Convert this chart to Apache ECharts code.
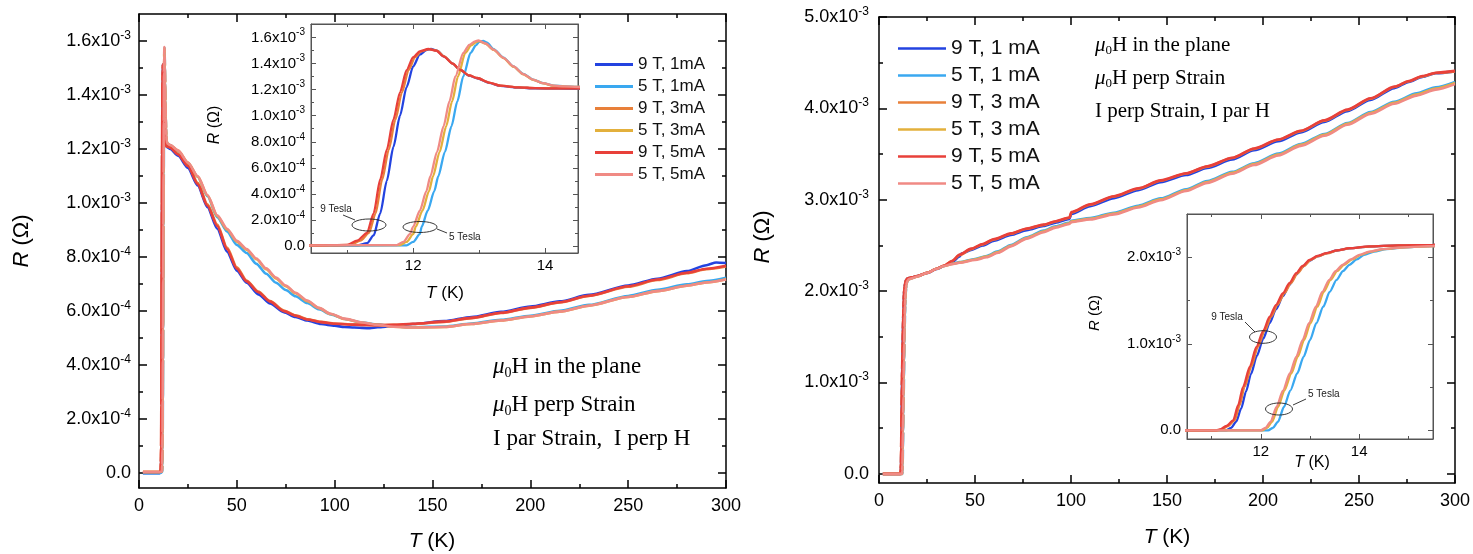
<!DOCTYPE html>
<html><head><meta charset="utf-8">
<script src="https://cdn.jsdelivr.net/npm/echarts@6/dist/echarts.min.js"></script>
<style>html,body{margin:0;padding:0;background:#fff}#c{width:1473px;height:554px}</style>
</head><body><div id="c"></div>
<script>
// T in K, R in units of 1e-3 Ohm
const leftNames  = ['9 T, 1mA','5 T, 1mA','9 T, 3mA','5 T, 3mA','9 T, 5mA','5 T, 5mA'];
const rightNames = ['9 T, 1 mA','5 T, 1 mA','9 T, 3 mA','5 T, 3 mA','9 T, 5 mA','5 T, 5 mA'];
const seriesColors = ['#2343e0','#3aa8f0','#e8803a','#e3b03c','#e8403a','#f08a84'];

// main x ticks
const mainXMajor = [0,50,100,150,200,250,300];
const mainXMinor = [25,75,125,175,225,275];
// left panel y ticks (1e-3 Ohm)
const leftYMajor = [0,0.2,0.4,0.6,0.8,1.0,1.2,1.4,1.6];
const leftYMinor = [0.1,0.3,0.5,0.7,0.9,1.1,1.3,1.5];
const leftInsetXMajor = [12,14];
const leftInsetXMinor = [11,13];
// right panel y ticks
const rightYMajor = [0,1,2,3,4,5];
const rightYMinor = [0.5,1.5,2.5,3.5,4.5];
const rightInsetYMajor = [0,1,2];
const rightInsetYMinor = [0.5,1.5];
const rightInsetXMajor = [12,14];
const rightInsetXMinor = [11,13,15];

// ---------- Left panel data ----------
const L_9T_1mA = [[2,0.0],[10.5,0.0],[11.15,0.002],[11.3,0.02],[11.4,0.08],[11.5,0.25],[11.6,0.50],[11.7,0.76],[11.8,1.0],[11.9,1.22],[12.0,1.38],[12.1,1.47],[12.2,1.505],[12.27,1.513],[12.36,1.50],[12.47,1.455],[12.6,1.40],[12.71,1.352],[12.85,1.308],[12.97,1.288],[13.15,1.253],[13.32,1.229],[13.6,1.216],[13.85,1.21],[14.2,1.208],[14.6,1.206],[16,1.20],[20,1.175],[25,1.13],[30,1.065],[35,0.985],[40,0.905],[45,0.82],[50,0.75],[55,0.705],[61,0.662],[67,0.628],[74,0.596],[80,0.578],[86,0.565],[93,0.552],[100,0.546],[105,0.541],[110,0.539],[118,0.537],[122,0.54],[130,0.545],[140,0.552],[156,0.563],[170,0.578],[185,0.597],[200,0.617],[215,0.636],[230,0.66],[250,0.695],[265,0.72],[280,0.748],[290,0.77],[295,0.78],[300,0.778]];
const L_5T_1mA = [[2,0.0],[10.5,0.0],[11.9,0.004],[12.0,0.03],[12.1,0.09],[12.13,0.148],[12.22,0.27],[12.32,0.42],[12.38,0.533],[12.48,0.72],[12.58,0.918],[12.67,1.11],[12.76,1.302],[12.87,1.482],[12.95,1.54],[13.0,1.568],[13.06,1.575],[13.12,1.562],[13.22,1.512],[13.37,1.447],[13.52,1.38],[13.67,1.321],[13.82,1.278],[13.97,1.25],[14.13,1.232],[14.3,1.225],[14.6,1.22],[16,1.214],[20,1.192],[25,1.148],[30,1.097],[35,1.025],[40,0.948],[45,0.895],[50,0.845],[55,0.815],[60,0.775],[65,0.738],[70,0.705],[75,0.678],[80,0.655],[86,0.63],[92,0.607],[98,0.588],[105,0.571],[114,0.558],[122,0.55],[130,0.543],[140,0.54],[156,0.543],[170,0.554],[185,0.568],[200,0.583],[215,0.601],[230,0.623],[250,0.656],[265,0.679],[280,0.699],[290,0.711],[300,0.723]];
const L_9T_3mA = [[2,0.004],[10.5,0.004],[11.05,0.008],[11.2,0.04],[11.33,0.10],[11.43,0.25],[11.53,0.51],[11.63,0.74],[11.73,0.97],[11.83,1.18],[11.93,1.35],[12.03,1.45],[12.12,1.495],[12.24,1.512],[12.36,1.50],[12.47,1.456],[12.6,1.40],[12.71,1.354],[12.85,1.31],[12.97,1.29],[13.15,1.255],[13.32,1.231],[13.6,1.218],[13.85,1.212],[14.2,1.21],[14.6,1.21],[16,1.205],[20,1.182],[25,1.14],[30,1.075],[35,0.995],[40,0.92],[45,0.835],[50,0.762],[55,0.713],[61,0.672],[67,0.637],[74,0.602],[80,0.584],[86,0.57],[93,0.56],[100,0.554],[110,0.55],[122,0.548],[130,0.549],[140,0.552],[156,0.56],[170,0.574],[185,0.593],[200,0.612],[215,0.632],[230,0.656],[250,0.69],[265,0.715],[280,0.74],[290,0.755],[300,0.765]];
const L_5T_3mA = [[2,0.004],[10.5,0.004],[11.8,0.006],[11.9,0.03],[12.0,0.09],[12.04,0.148],[12.14,0.27],[12.24,0.42],[12.3,0.533],[12.4,0.72],[12.5,0.918],[12.59,1.11],[12.68,1.302],[12.79,1.482],[12.88,1.54],[12.96,1.568],[13.0,1.573],[13.1,1.553],[13.22,1.506],[13.37,1.443],[13.52,1.377],[13.67,1.318],[13.82,1.276],[13.97,1.249],[14.13,1.23],[14.3,1.224],[14.6,1.22],[16,1.214],[20,1.194],[25,1.15],[30,1.098],[35,1.028],[40,0.952],[45,0.902],[50,0.857],[55,0.827],[60,0.792],[65,0.755],[70,0.721],[75,0.692],[80,0.666],[86,0.637],[92,0.611],[98,0.589],[105,0.571],[114,0.557],[122,0.549],[130,0.542],[140,0.539],[156,0.541],[170,0.552],[185,0.565],[200,0.58],[215,0.598],[230,0.62],[250,0.652],[265,0.674],[280,0.694],[290,0.706],[300,0.718]];
const L_9T_5mA = [[2,0.004],[8,0.004],[10.5,0.004],[11.0,0.008],[11.15,0.04],[11.3,0.10],[11.4,0.25],[11.5,0.51],[11.6,0.74],[11.7,0.97],[11.8,1.18],[11.9,1.35],[12.0,1.45],[12.1,1.495],[12.23,1.513],[12.35,1.50],[12.46,1.456],[12.6,1.40],[12.71,1.354],[12.85,1.31],[12.97,1.29],[13.15,1.255],[13.32,1.231],[13.6,1.218],[13.85,1.212],[14.2,1.21],[14.6,1.21],[16,1.205],[20,1.18],[25,1.137],[30,1.07],[35,0.99],[40,0.915],[45,0.83],[50,0.757],[55,0.71],[61,0.67],[67,0.635],[74,0.60],[80,0.583],[86,0.569],[93,0.559],[100,0.553],[110,0.55],[122,0.548],[130,0.549],[140,0.553],[156,0.561],[170,0.575],[185,0.594],[200,0.613],[215,0.633],[230,0.657],[250,0.692],[265,0.717],[280,0.742],[290,0.757],[300,0.768]];
const L_5T_5mA = [[2,0.004],[10.5,0.004],[11.75,0.006],[11.85,0.03],[11.95,0.09],[12.0,0.148],[12.1,0.27],[12.2,0.42],[12.26,0.533],[12.36,0.72],[12.46,0.918],[12.55,1.11],[12.64,1.302],[12.76,1.482],[12.85,1.545],[12.94,1.572],[12.99,1.578],[13.1,1.555],[13.22,1.508],[13.37,1.445],[13.52,1.379],[13.67,1.32],[13.82,1.277],[13.97,1.25],[14.13,1.231],[14.3,1.225],[14.6,1.22],[16,1.215],[20,1.195],[25,1.15],[30,1.10],[35,1.03],[40,0.955],[45,0.905],[50,0.86],[55,0.83],[60,0.795],[65,0.758],[70,0.724],[75,0.695],[80,0.668],[86,0.639],[92,0.612],[98,0.59],[105,0.572],[114,0.558],[122,0.549],[130,0.542],[140,0.539],[156,0.541],[170,0.552],[185,0.565],[200,0.58],[215,0.598],[230,0.62],[250,0.652],[265,0.674],[280,0.694],[290,0.706],[300,0.717]];

// ---------- Right panel data ----------
const R_9T_1mA = [[2,0.0],[10,0.0],[11.3,0.0],[11.4,0.03],[11.5,0.10],[11.6,0.25],[11.7,0.45],[11.8,0.65],[11.92,0.86],[12.05,1.06],[12.18,1.24],[12.31,1.40],[12.45,1.55],[12.58,1.68],[12.72,1.80],[12.85,1.89],[12.99,1.96],[13.15,2.01],[13.33,2.045],[13.55,2.078],[13.8,2.103],[14.2,2.124],[14.8,2.137],[15.5,2.144],[17,2.15],[20,2.165],[25,2.198],[30,2.242],[34,2.275],[38,2.318],[42,2.38],[43,2.41],[48,2.45],[54,2.5],[60,2.553],[68.7,2.615],[77,2.668],[85.8,2.712],[92,2.75],[99.2,2.79],[100.2,2.845],[110,2.93],[122.4,3.018],[135,3.105],[146.7,3.192],[160,3.27],[171,3.347],[184,3.44],[195.4,3.541],[208,3.64],[219.7,3.737],[232,3.852],[244,3.97],[256,4.093],[268.4,4.222],[276,4.29],[283,4.345],[290,4.385],[300,4.405]];
const R_5T_1mA = [[2,0.0],[10,0.0],[12.15,0.0],[12.25,0.03],[12.35,0.10],[12.47,0.27],[12.6,0.46],[12.74,0.657],[12.87,0.85],[13.0,1.043],[13.13,1.24],[13.27,1.429],[13.4,1.60],[13.54,1.738],[13.67,1.84],[13.8,1.912],[13.95,1.975],[14.1,2.028],[14.3,2.065],[14.55,2.094],[14.95,2.115],[15.5,2.13],[17,2.14],[20,2.162],[25,2.2],[30,2.245],[34,2.277],[38,2.3],[42,2.318],[50,2.352],[56,2.385],[62,2.435],[68.7,2.505],[77,2.59],[85.8,2.662],[92,2.71],[99.2,2.75],[100.2,2.77],[110,2.8],[122.4,2.858],[135,2.935],[146.7,3.015],[160,3.115],[171,3.205],[184,3.305],[195.4,3.4],[208,3.505],[219.7,3.61],[232,3.72],[244,3.84],[256,3.96],[268.4,4.072],[280,4.165],[290,4.23],[300,4.29]];
const R_9T_3mA = [[2,0.0],[10,0.0],[11.13,0.0],[11.2,0.01],[11.33,0.05],[11.47,0.116],[11.57,0.29],[11.67,0.502],[11.81,0.74],[11.94,0.965],[12.08,1.15],[12.21,1.313],[12.34,1.45],[12.48,1.584],[12.61,1.70],[12.75,1.816],[12.88,1.90],[13.01,1.968],[13.17,2.013],[13.35,2.046],[13.56,2.079],[13.8,2.104],[14.2,2.124],[14.8,2.137],[15.5,2.143],[17,2.15],[20,2.165],[25,2.2],[30,2.245],[34,2.28],[38,2.328],[42,2.395],[48,2.46],[54,2.512],[60,2.566],[68.7,2.628],[77,2.682],[85.8,2.725],[92,2.762],[99.2,2.803],[100.2,2.86],[110,2.945],[122.4,3.035],[135,3.121],[146.7,3.208],[160,3.287],[171,3.363],[184,3.457],[195.4,3.557],[208,3.656],[219.7,3.751],[232,3.866],[244,3.983],[256,4.106],[268.4,4.234],[276,4.297],[283,4.35],[290,4.387],[300,4.405]];
const R_5T_3mA = [[2,0.0],[10,0.0],[12.03,0.0],[12.13,0.03],[12.23,0.10],[12.35,0.27],[12.48,0.46],[12.62,0.657],[12.75,0.85],[12.88,1.043],[13.01,1.24],[13.15,1.429],[13.28,1.60],[13.42,1.738],[13.55,1.84],[13.69,1.912],[13.86,1.975],[14.03,2.028],[14.23,2.065],[14.5,2.094],[14.92,2.115],[15.5,2.13],[17,2.14],[20,2.161],[25,2.2],[30,2.245],[34,2.276],[38,2.297],[42,2.314],[50,2.346],[56,2.377],[62,2.427],[68.7,2.497],[77,2.582],[85.8,2.653],[92,2.702],[99.2,2.742],[100.2,2.762],[110,2.792],[122.4,2.848],[135,2.924],[146.7,3.004],[160,3.104],[171,3.194],[184,3.294],[195.4,3.39],[208,3.494],[219.7,3.6],[232,3.71],[244,3.83],[256,3.95],[268.4,4.061],[280,4.152],[290,4.217],[300,4.278]];
const R_9T_5mA = [[2,0.0],[10,0.0],[11.1,0.0],[11.17,0.01],[11.3,0.05],[11.44,0.116],[11.54,0.29],[11.64,0.502],[11.78,0.74],[11.91,0.965],[12.05,1.15],[12.18,1.313],[12.31,1.45],[12.45,1.584],[12.58,1.70],[12.72,1.816],[12.85,1.90],[12.99,1.97],[13.15,2.015],[13.33,2.047],[13.55,2.08],[13.8,2.105],[14.2,2.125],[14.8,2.138],[15.5,2.144],[17,2.15],[20,2.165],[25,2.2],[30,2.245],[34,2.28],[38,2.33],[42,2.40],[48,2.465],[54,2.516],[60,2.57],[68.7,2.632],[77,2.685],[85.8,2.728],[92,2.765],[99.2,2.806],[100.2,2.865],[110,2.95],[122.4,3.039],[135,3.125],[146.7,3.212],[160,3.29],[171,3.367],[184,3.46],[195.4,3.561],[208,3.66],[219.7,3.755],[232,3.87],[244,3.987],[256,4.11],[268.4,4.238],[276,4.30],[283,4.354],[290,4.39],[300,4.41]];
const R_5T_5mA = [[2,0.0],[10,0.0],[12.0,0.0],[12.1,0.03],[12.2,0.10],[12.32,0.27],[12.45,0.46],[12.59,0.657],[12.72,0.85],[12.85,1.043],[12.98,1.24],[13.12,1.429],[13.25,1.60],[13.39,1.738],[13.52,1.84],[13.66,1.912],[13.83,1.975],[14.0,2.028],[14.2,2.065],[14.47,2.094],[14.9,2.115],[15.5,2.13],[17,2.14],[20,2.16],[25,2.2],[30,2.245],[34,2.275],[38,2.295],[42,2.31],[50,2.34],[56,2.37],[62,2.42],[68.7,2.49],[77,2.575],[85.8,2.645],[92,2.695],[99.2,2.735],[100.2,2.755],[110,2.785],[122.4,2.84],[135,2.915],[146.7,2.995],[160,3.095],[171,3.185],[184,3.285],[195.4,3.38],[208,3.485],[219.7,3.59],[232,3.70],[244,3.82],[256,3.94],[268.4,4.05],[280,4.14],[290,4.205],[300,4.265]];

const leftData  = [L_9T_1mA, L_5T_1mA, L_9T_3mA, L_5T_3mA, L_9T_5mA, L_5T_5mA];
const rightData = [R_9T_1mA, R_5T_1mA, R_9T_3mA, R_5T_3mA, R_9T_5mA, R_5T_5mA];

const SANS = 'Liberation Sans', SERIF = 'Liberation Serif';

function sciLabel(v) {
  if (Math.abs(v) < 1e-9) return '{m|0.0}';
  const r = v * 1e-3;
  const e = Math.floor(Math.log10(Math.abs(r)) + 1e-9);
  const m = (r / Math.pow(10, e)).toFixed(1);
  return '{m|' + m + 'x10}{e|' + e + '}';
}

function makeAxes(dim, gridIndex, min, max, majors, minors, o) {
  const posA = dim === 'x' ? 'bottom' : 'left';
  const posB = dim === 'x' ? 'top' : 'right';
  const ls = { color: o.color, width: o.lineW };
  const base = { type: 'value', gridIndex, min, max, splitLine: { show: false }, minorTick: { show: false } };
  const label = dim === 'x'
    ? { show: true, customValues: majors, margin: o.margin, color: '#000', fontFamily: SANS, fontSize: o.fs,
        formatter: v => String(Math.round(v)) }
    : { show: true, customValues: majors, margin: o.margin, color: '#000', fontFamily: SANS,
        formatter: v => sciLabel(v),
        rich: { m: { fontFamily: SANS, fontSize: o.fs, color: '#000', lineHeight: o.fs + 5 },
                e: { fontFamily: SANS, fontSize: o.sup, color: '#000', verticalAlign: 'top', lineHeight: o.sup } } };
  return [
    Object.assign({}, base, { position: posA, axisLine: { show: true, onZero: false, lineStyle: ls },
      axisTick: { show: true, inside: true, length: o.majorLen, customValues: majors, lineStyle: ls }, axisLabel: label }),
    Object.assign({}, base, { position: posA, axisLine: { show: false, onZero: false },
      axisTick: { show: true, inside: true, length: o.minorLen, customValues: minors, lineStyle: ls }, axisLabel: { show: false } }),
    Object.assign({}, base, { position: posB, axisLine: { show: true, onZero: false, lineStyle: ls },
      axisTick: { show: true, inside: true, length: o.majorLen, customValues: majors, lineStyle: ls }, axisLabel: { show: false } }),
    Object.assign({}, base, { position: posB, axisLine: { show: false, onZero: false },
      axisTick: { show: true, inside: true, length: o.minorLen, customValues: minors, lineStyle: ls }, axisLabel: { show: false } })
  ];
}

const mainStyleX = { color: '#000', lineW: 1.5, majorLen: 8, minorLen: 4, fs: 18, margin: 9 };
const mainStyleYL = { color: '#000', lineW: 1.5, majorLen: 8, minorLen: 4, fs: 18, sup: 12, margin: 8 };
const mainStyleYR = { color: '#000', lineW: 1.5, majorLen: 8, minorLen: 4, fs: 18, sup: 12, margin: 10 };
const insetStyleX = { color: '#555', lineW: 1, majorLen: 5, minorLen: 3, fs: 15, margin: 5 };
const insetStyleY = { color: '#555', lineW: 1, majorLen: 5, minorLen: 3, fs: 15, sup: 10, margin: 6 };

const grids = [
  { left: 139, top: 14, width: 587, height: 474 },
  { left: 311, top: 24, width: 267, height: 229, show: true, backgroundColor: '#fff', borderColor: '#555', borderWidth: 1 },
  { left: 879, top: 17, width: 576, height: 466 },
  { left: 1187, top: 214, width: 246, height: 225, show: true, backgroundColor: '#fff', borderColor: '#555', borderWidth: 1 }
];

const xAxes = [].concat(
  makeAxes('x', 0, 0, 300, mainXMajor, mainXMinor, mainStyleX),
  makeAxes('x', 1, 10.45, 14.5, leftInsetXMajor, leftInsetXMinor, insetStyleX),
  makeAxes('x', 2, 0, 300, mainXMajor, mainXMinor, mainStyleX),
  makeAxes('x', 3, 10.5, 15.5, rightInsetXMajor, rightInsetXMinor, insetStyleX)
);
const yAxes = [].concat(
  makeAxes('y', 0, -0.055, 1.7, leftYMajor, leftYMinor, mainStyleYL),
  makeAxes('y', 1, -0.055, 1.705, leftYMajor, leftYMinor, insetStyleY),
  makeAxes('y', 2, -0.1, 5.0, rightYMajor, rightYMinor, mainStyleYR),
  makeAxes('y', 3, -0.1, 2.5, rightInsetYMajor, rightInsetYMinor, insetStyleY)
);

const series = [];
function addSeries(names, datas, grid, width) {
  names.forEach((n, i) => {
    series.push({
      type: 'line', name: n, data: datas[i], xAxisIndex: grid * 4, yAxisIndex: grid * 4,
      symbol: 'none', showSymbol: false, smooth: 0.25, smoothMonotone: 'x', clip: true,
      color: seriesColors[i], lineStyle: { color: seriesColors[i], width: width },
      z: 3 + i
    });
  });
}
addSeries(leftNames, leftData, 0, 2.6);
addSeries(leftNames, leftData, 1, 2.3);
addSeries(rightNames, rightData, 2, 2.6);
addSeries(rightNames, rightData, 3, 2.3);

function txt(x, y, text, fs, opts) {
  opts = opts || {};
  return { type: 'text', x: x, y: y, rotation: opts.rot || 0, z: 50,
    style: Object.assign({ text: text, fontFamily: opts.ff || SANS, fontSize: fs, fill: opts.fill || '#000',
      align: opts.align || 'center', verticalAlign: 'middle' }, opts.style || {}) };
}
function axisName(x, y, letter, unit, fs, rot) {
  return txt(x, y, '{i|' + letter + '}{n| ' + unit + '}', fs, { rot: rot, style: { rich: {
    i: { fontFamily: SANS, fontSize: fs, fontStyle: 'italic', fill: '#000' },
    n: { fontFamily: SANS, fontSize: fs, fill: '#000' } } } });
}
function muLine(x, y, rest, fs) {
  return txt(x, y, '{mu|μ}{s|0}{n|' + rest + '}', fs, { align: 'left', ff: SERIF, style: { rich: {
    mu: { fontFamily: SERIF, fontSize: fs, fontStyle: 'italic', fill: '#000', lineHeight: fs + 4 },
    s: { fontFamily: SERIF, fontSize: Math.round(fs * 0.62), fill: '#000', verticalAlign: 'bottom', lineHeight: Math.round(fs * 0.62) },
    n: { fontFamily: SERIF, fontSize: fs, fill: '#000', lineHeight: fs + 4 } } } });
}
function ellipse(cx, cy, rx, ry) {
  return { type: 'ellipse', z: 50, shape: { cx, cy, rx, ry }, style: { fill: 'none', stroke: '#222', lineWidth: 0.9 } };
}
function seg(x1, y1, x2, y2) {
  return { type: 'line', z: 50, shape: { x1, y1, x2, y2 }, style: { stroke: '#222', lineWidth: 0.9 } };
}

const graphics = [
  axisName(22, 241, 'R', '(Ω)', 22, Math.PI / 2),
  axisName(432, 541, 'T', '(K)', 21, 0),
  axisName(215, 125, 'R', '(Ω)', 16, Math.PI / 2),
  axisName(445, 293, 'T', '(K)', 17, 0),
  axisName(763, 237, 'R', '(Ω)', 22, Math.PI / 2),
  axisName(1167, 537, 'T', '(K)', 21, 0),
  axisName(1095, 313, 'R', '(Ω)', 15, Math.PI / 2),
  axisName(1312, 463, 'T', '(K)', 16, 0),
  muLine(493, 367, 'H in the plane', 23),
  muLine(493, 405, 'H perp Strain', 23),
  txt(493, 439, 'I par Strain,  I perp H', 23, { align: 'left', ff: SERIF }),
  muLine(1095, 45, 'H in the plane', 21),
  muLine(1095, 78, 'H perp Strain', 21),
  txt(1095, 111, 'I perp Strain, I par H', 21, { align: 'left', ff: SERIF }),
  // left inset annotations
  txt(336, 209, '9 Tesla', 10, { fill: '#222' }),
  ellipse(369, 225, 17, 6),
  seg(343, 215, 355, 220),
  txt(449, 237, '5 Tesla', 10, { align: 'left', fill: '#222' }),
  ellipse(420, 227, 17, 5.5),
  seg(437, 229, 447, 233),
  // right inset annotations
  txt(1227, 317, '9 Tesla', 10, { fill: '#222' }),
  ellipse(1263, 337, 13.5, 6.3),
  seg(1245, 322, 1255, 332),
  txt(1308, 394, '5 Tesla', 10, { align: 'left', fill: '#222' }),
  ellipse(1279, 409, 13.5, 6),
  seg(1293, 405, 1306, 399)
];

const option = {
  animation: false,
  backgroundColor: '#fff',
  grid: grids,
  xAxis: xAxes,
  yAxis: yAxes,
  legend: [
    { data: leftNames, orient: 'vertical', left: 590, top: 51, itemWidth: 38, itemHeight: 3, itemGap: 5,
      icon: 'rect', itemStyle: { borderWidth: 0 },
      textStyle: { fontFamily: SANS, fontSize: 17, color: '#111' }, padding: 5 },
    { data: rightNames, orient: 'vertical', left: 893, top: 33, itemWidth: 48, itemHeight: 2.5, itemGap: 6,
      icon: 'rect', itemStyle: { borderWidth: 0 },
      textStyle: { fontFamily: SANS, fontSize: 21, color: '#111' }, padding: 5 }
  ],
  series: series,
  graphic: graphics
};

const chart = echarts.init(document.getElementById('c'), null, { renderer: 'canvas' });
chart.setOption(option);
</script>
</body></html>
